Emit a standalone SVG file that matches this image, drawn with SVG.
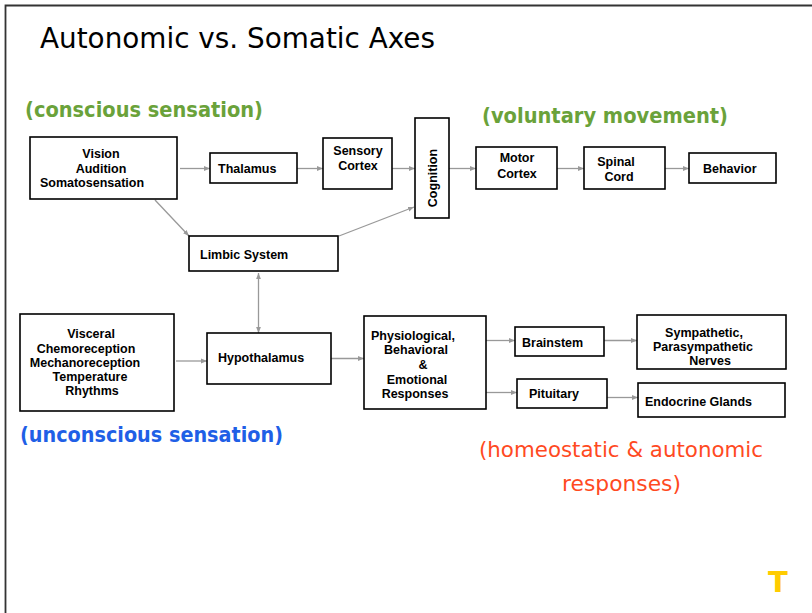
<svg xmlns="http://www.w3.org/2000/svg" width="812" height="613" viewBox="0 0 812 613">
<style>
.box{fill:#fff;stroke:#000;stroke-width:1.6}
.lbl{font-family:"Liberation Sans",Arial,sans-serif;font-weight:bold;font-size:12.5px;fill:#000}
.mid{text-anchor:middle}
.con{stroke:#999;stroke-width:1.3;fill:none}
.hand{font-family:"DejaVu Sans",sans-serif}
</style>
<defs>
<marker id="ah" viewBox="0 0 10 10" refX="10" refY="5" markerWidth="6" markerHeight="6" markerUnits="userSpaceOnUse" orient="auto-start-reverse">
<path d="M0,1 L10,5 L0,9 z" fill="#999"/>
</marker>
</defs>
<rect x="0" y="0" width="812" height="613" fill="#fff"/>
<path d="M5.5,620 L5.5,5.5 L820,5.5" fill="none" stroke="#333" stroke-width="1.8"/>
<text class="hand" x="40" y="48" font-size="29" fill="#000" textLength="395" lengthAdjust="spacingAndGlyphs">Autonomic vs. Somatic Axes</text>
<text class="hand" x="25" y="117" font-size="21" font-weight="bold" fill="#6aa23a" textLength="238" lengthAdjust="spacingAndGlyphs">(conscious sensation)</text>
<text class="hand" x="482" y="123" font-size="21" font-weight="bold" fill="#6aa23a" textLength="246" lengthAdjust="spacingAndGlyphs">(voluntary movement)</text>
<text class="hand" x="20" y="442" font-size="21" font-weight="bold" fill="#1f5fe6" textLength="263" lengthAdjust="spacingAndGlyphs">(unconscious sensation)</text>
<text class="hand" x="479" y="457" font-size="22" fill="#ff4a1f" textLength="284" lengthAdjust="spacingAndGlyphs">(homeostatic &amp; autonomic</text>
<text class="hand" x="562" y="491" font-size="22" fill="#ff4a1f" textLength="119" lengthAdjust="spacingAndGlyphs">responses)</text>

<g id="connectors">
<line class="con" x1="180" y1="168.5" x2="210" y2="168.5" marker-end="url(#ah)"/>
<line class="con" x1="297" y1="168.5" x2="323" y2="168.5" marker-end="url(#ah)"/>
<line class="con" x1="392" y1="168.5" x2="415" y2="168.5" marker-end="url(#ah)"/>
<line class="con" x1="449" y1="168.5" x2="476" y2="168.5" marker-end="url(#ah)"/>
<line class="con" x1="557" y1="168.5" x2="584" y2="168.5" marker-end="url(#ah)"/>
<line class="con" x1="665" y1="168.5" x2="689" y2="168.5" marker-end="url(#ah)"/>
<line class="con" x1="155" y1="200" x2="189" y2="236" marker-end="url(#ah)"/>
<line class="con" x1="339" y1="236" x2="414" y2="207" marker-end="url(#ah)"/>
<line class="con" x1="258.5" y1="273" x2="258.5" y2="333" marker-start="url(#ah)" marker-end="url(#ah)"/>
<line class="con" x1="176" y1="361" x2="207" y2="361" marker-end="url(#ah)"/>
<line class="con" x1="331" y1="358.5" x2="364" y2="358.5" marker-end="url(#ah)"/>
<line class="con" x1="486" y1="340.5" x2="515" y2="340.5" marker-end="url(#ah)"/>
<line class="con" x1="486" y1="392.5" x2="517" y2="392.5" marker-end="url(#ah)"/>
<line class="con" x1="604" y1="340.5" x2="637" y2="340.5" marker-end="url(#ah)"/>
<line class="con" x1="607" y1="397.5" x2="638" y2="397.5" marker-end="url(#ah)"/>
</g>

<g id="vision">
<rect class="box" x="30" y="137" width="147" height="62"/>
<text class="lbl mid" x="101" y="158">Vision</text>
<text class="lbl mid" x="101" y="172.5">Audition</text>
<text class="lbl mid" x="92" y="187">Somatosensation</text>
</g>
<g id="thalamus">
<rect class="box" x="210" y="153" width="87" height="30"/>
<text class="lbl" x="218" y="172.5">Thalamus</text>
</g>
<g id="sensory-cortex">
<rect class="box" x="323" y="138" width="69" height="51"/>
<text class="lbl mid" x="358" y="155">Sensory</text>
<text class="lbl mid" x="358" y="169.5">Cortex</text>
</g>
<g id="cognition">
<rect class="box" x="415" y="118" width="34" height="100"/>
<text class="lbl mid" x="437" y="178" transform="rotate(-90 437 178)">Cognition</text>
</g>
<g id="motor-cortex">
<rect class="box" x="476" y="147" width="81" height="42"/>
<text class="lbl mid" x="517" y="161.5">Motor</text>
<text class="lbl mid" x="517" y="177.5">Cortex</text>
</g>
<g id="spinal-cord">
<rect class="box" x="584" y="147" width="81" height="42"/>
<text class="lbl mid" x="616" y="166">Spinal</text>
<text class="lbl mid" x="619" y="181">Cord</text>
</g>
<g id="behavior">
<rect class="box" x="689" y="153" width="87" height="30"/>
<text class="lbl" x="703" y="172.5">Behavior</text>
</g>
<g id="limbic-system">
<rect class="box" x="189" y="236" width="149" height="35"/>
<text class="lbl" x="200" y="258.5">Limbic System</text>
</g>
<g id="visceral">
<rect class="box" x="20" y="314" width="154" height="97"/>
<text class="lbl mid" x="91" y="337.5">Visceral</text>
<text class="lbl mid" x="86" y="352.5">Chemoreception</text>
<text class="lbl mid" x="85" y="366.5">Mechanoreception</text>
<text class="lbl mid" x="90" y="381">Temperature</text>
<text class="lbl mid" x="92" y="395">Rhythms</text>
</g>
<g id="hypothalamus">
<rect class="box" x="207" y="333" width="124" height="51"/>
<text class="lbl" x="218" y="362">Hypothalamus</text>
</g>
<g id="responses">
<rect class="box" x="364" y="316" width="122" height="93"/>
<text class="lbl mid" x="413" y="339.5">Physiological,</text>
<text class="lbl mid" x="416" y="354">Behavioral</text>
<text class="lbl mid" x="423" y="368.5">&amp;</text>
<text class="lbl mid" x="417" y="383.5">Emotional</text>
<text class="lbl mid" x="415" y="397.5">Responses</text>
</g>
<g id="brainstem">
<rect class="box" x="515" y="327" width="89" height="29"/>
<text class="lbl" x="522" y="347">Brainstem</text>
</g>
<g id="pituitary">
<rect class="box" x="517" y="379" width="90" height="29"/>
<text class="lbl" x="529" y="397.5">Pituitary</text>
</g>
<g id="sympathetic">
<rect class="box" x="637" y="315" width="149" height="54"/>
<text class="lbl mid" x="704" y="337">Sympathetic,</text>
<text class="lbl mid" x="703" y="351">Parasympathetic</text>
<text class="lbl mid" x="710" y="365">Nerves</text>
</g>
<g id="endocrine-glands">
<rect class="box" x="638" y="383" width="147" height="34"/>
<text class="lbl" x="645" y="405.5">Endocrine Glands</text>
</g>
<text x="778" y="592" font-family="'DejaVu Sans',sans-serif" font-weight="bold" font-size="29" fill="#ffcc00" text-anchor="middle">T</text>
</svg>
